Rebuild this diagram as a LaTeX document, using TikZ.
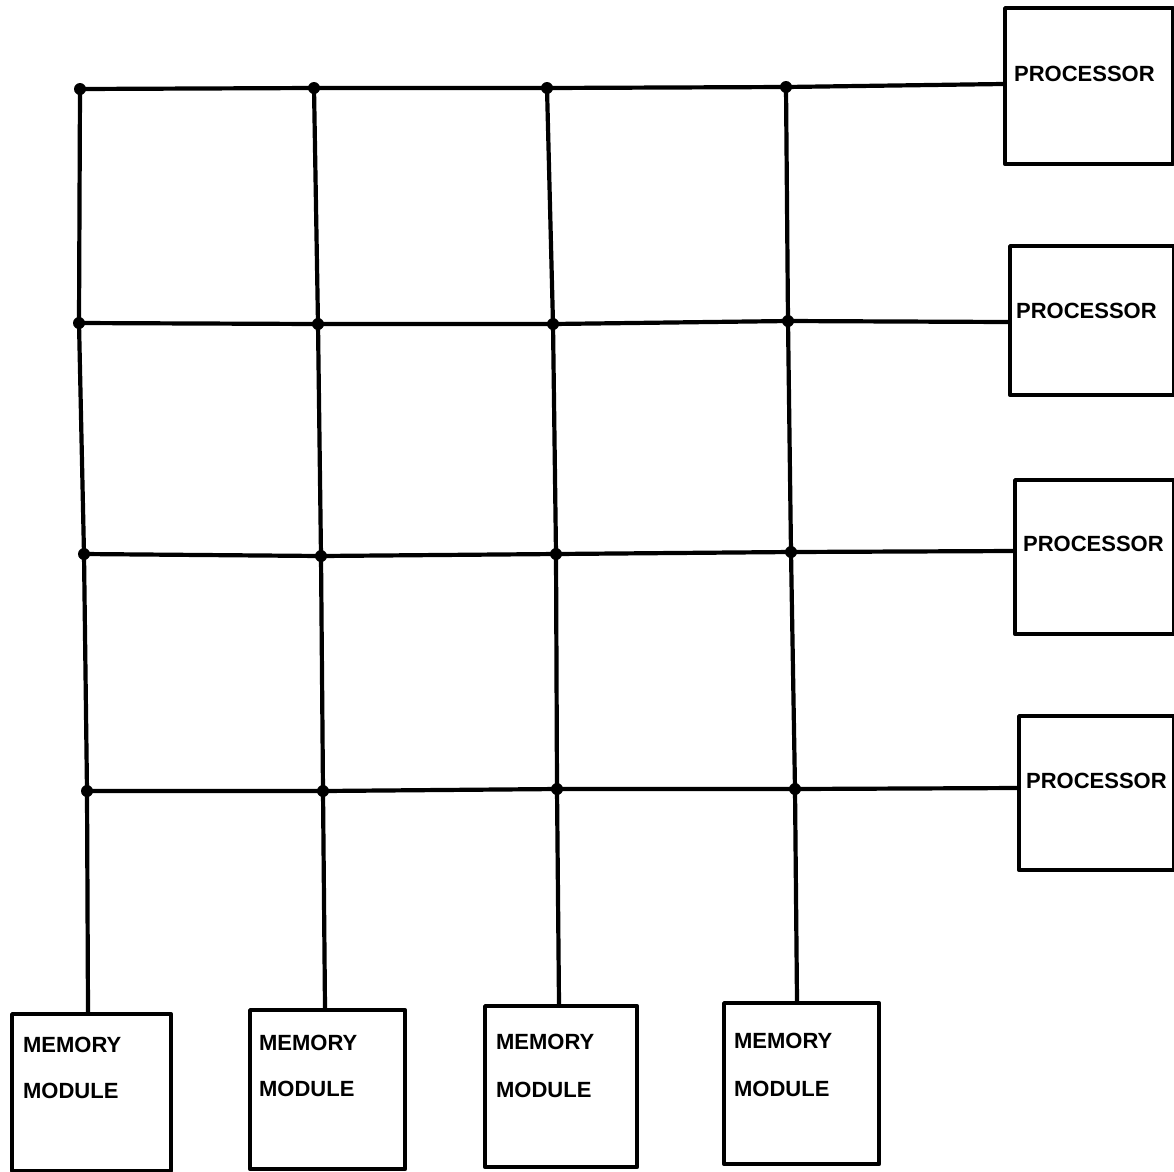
\documentclass[tikz,border=0pt]{standalone}
\usepackage{fontspec}
\setmainfont{Liberation Sans}
\begin{document}
\begin{tikzpicture}[x=1pt,y=-1pt,line width=4.2pt,line cap=round,line join=round,
  box/.style={draw,anchor=north west,inner sep=0pt},
  lbl/.style={anchor=west,inner sep=0pt,font=\bfseries\fontsize{22}{24}\selectfont},
  dot/.style={circle,fill,inner sep=0pt,minimum size=12pt}]
\useasboundingbox (0,0) rectangle (1174,1171);
% processors
\node[box,minimum width=168pt,minimum height=156pt] (P1) at (1003,6) {};
\node[box,minimum width=164pt,minimum height=149pt] (P2) at (1008,244) {};
\node[box,minimum width=159pt,minimum height=154pt] (P3) at (1013,478) {};
\node[box,minimum width=155pt,minimum height=154pt] (P4) at (1017,714) {};
\node[lbl] (P1t) at (1012,74) {PROCESSOR};
\node[lbl] (P2t) at (1014,311) {PROCESSOR};
\node[lbl] (P3t) at (1021,544) {PROCESSOR};
\node[lbl] (P4t) at (1024,781) {PROCESSOR};
% memory modules
\node[box,minimum width=159pt,minimum height=157pt] (M1) at (10,1012) {};
\node[box,minimum width=155pt,minimum height=159pt] (M2) at (248,1008) {};
\node[box,minimum width=152pt,minimum height=161pt] (M3) at (483,1004) {};
\node[box,minimum width=155pt,minimum height=161pt] (M4) at (722,1001) {};
\node[lbl] (M1a) at (21,1045) {MEMORY};
\node[lbl] (M1b) at (21,1091) {MODULE};
\node[lbl] (M2a) at (257,1043) {MEMORY};
\node[lbl] (M2b) at (257,1089) {MODULE};
\node[lbl] (M3a) at (494,1042) {MEMORY};
\node[lbl] (M3b) at (494,1090) {MODULE};
\node[lbl] (M4a) at (732,1041) {MEMORY};
\node[lbl] (M4b) at (732,1089) {MODULE};
% crosspoints
\node[dot] (d11) at (80,89) {};  \node[dot] (d12) at (314,88) {};  \node[dot] (d13) at (547,88) {};  \node[dot] (d14) at (786,87) {};
\node[dot] (d21) at (79,323) {}; \node[dot] (d22) at (318,324) {}; \node[dot] (d23) at (553,324) {}; \node[dot] (d24) at (788,321) {};
\node[dot] (d31) at (84,554) {}; \node[dot] (d32) at (321,556) {}; \node[dot] (d33) at (556,554) {}; \node[dot] (d34) at (791,552) {};
\node[dot] (d41) at (87,791) {}; \node[dot] (d42) at (323,791) {}; \node[dot] (d43) at (557,789) {}; \node[dot] (d44) at (795,789) {};
% rows
\draw (d11.center) -- (d12.center) -- (d13.center) -- (d14.center) -- (P1.west |- 0,84);
\draw (d21.center) -- (d22.center) -- (d23.center) -- (d24.center) -- (P2.west |- 0,322);
\draw (d31.center) -- (d32.center) -- (d33.center) -- (d34.center) -- (P3.west |- 0,551);
\draw (d41.center) -- (d42.center) -- (d43.center) -- (d44.center) -- (P4.west |- 0,788);
% columns
\draw (d11.center) -- (d21.center) -- (d31.center) -- (d41.center) -- (M1.north -| 88,0);
\draw (d12.center) -- (d22.center) -- (d32.center) -- (d42.center) -- (M2.north -| 325,0);
\draw (d13.center) -- (d23.center) -- (d33.center) -- (d43.center) -- (M3.north -| 559,0);
\draw (d14.center) -- (d24.center) -- (d34.center) -- (d44.center) -- (M4.north -| 797,0);
\end{tikzpicture}
\end{document}
